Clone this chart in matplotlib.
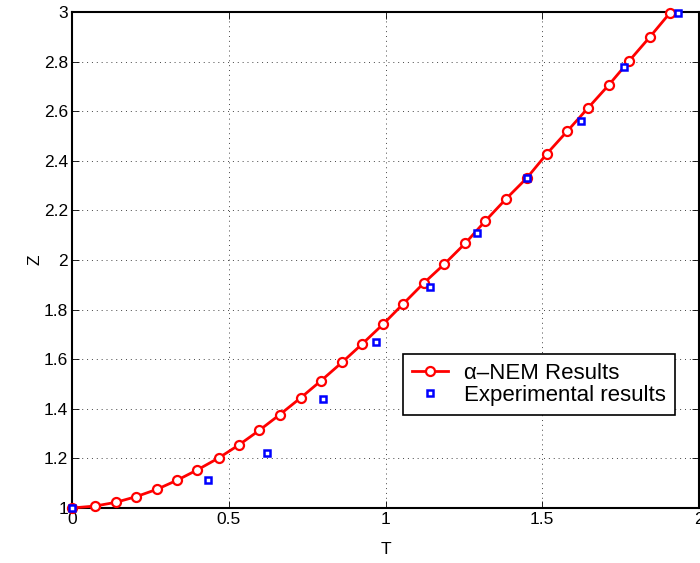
import matplotlib.pyplot as plt
from matplotlib.ticker import FuncFormatter

plt.rcParams['font.family'] = ['Liberation Sans', 'DejaVu Sans']

# alpha-NEM solution
t_nem = [0.0, 0.074, 0.140, 0.205, 0.270, 0.335, 0.400, 0.468, 0.533, 0.597,
         0.662, 0.730, 0.794, 0.861, 0.926, 0.992, 1.057, 1.122, 1.188, 1.254,
         1.318, 1.384, 1.451, 1.515, 1.580, 1.646, 1.713, 1.778, 1.843, 1.907]
z_nem = [1.000, 1.008, 1.023, 1.046, 1.075, 1.112, 1.154, 1.202, 1.255, 1.313,
         1.376, 1.445, 1.513, 1.587, 1.662, 1.741, 1.824, 1.907, 1.984, 2.067,
         2.157, 2.246, 2.331, 2.429, 2.520, 2.613, 2.707, 2.804, 2.899, 2.996]

# measurements
t_exp = [0.0, 0.432, 0.622, 0.800, 0.970, 1.142, 1.291, 1.451, 1.622, 1.762, 1.932]
z_exp = [1.000, 1.113, 1.222, 1.440, 1.671, 1.890, 2.110, 2.331, 2.559, 2.780, 2.997]

fig = plt.figure(figsize=(7.0, 5.63), dpi=100)
ax = fig.add_axes([0.103, 0.0977, 0.8956, 0.881])

ax.plot(t_nem, z_nem, '-o', color='red', lw=2, ms=6.5, mfc='white', mec='red',
        mew=1.6, label='\u03b1\u2013NEM Results', clip_on=False, zorder=3)
ax.plot(t_exp, z_exp, 's', color='blue', ms=5, mfc='white', mec='blue',
        mew=1.8, label='Experimental results', clip_on=False, zorder=4)

ax.set_xlim(0, 2)
ax.set_ylim(1, 3)
ax.set_xticks([0, 0.5, 1, 1.5, 2])
ax.set_yticks([1, 1.2, 1.4, 1.6, 1.8, 2, 2.2, 2.4, 2.6, 2.8, 3])
fmt = FuncFormatter(lambda v, p: f'{v:g}')
ax.xaxis.set_major_formatter(fmt)
ax.yaxis.set_major_formatter(fmt)
ax.tick_params(direction='in', top=True, right=True, labelsize=12.5, length=5, width=0.6, pad=3)
ax.grid(True, linestyle=(0, (1, 4)), color='#444444', lw=0.7)
for s in ax.spines.values():
    s.set_linewidth(1.5)

ax.set_xlabel('T', fontsize=12.5, labelpad=11)
ax.set_ylabel('Z', fontsize=12.5, labelpad=1)

leg = ax.legend(loc='upper left', bbox_to_anchor=(0.528, 0.31), fontsize=16,
                fancybox=False, framealpha=1, edgecolor='black', borderpad=0.4,
                handlelength=1.6, handletextpad=0.75, labelspacing=0.05, borderaxespad=0)
leg.get_frame().set_linewidth(1.2)

fig.savefig('out.png', dpi=100)
